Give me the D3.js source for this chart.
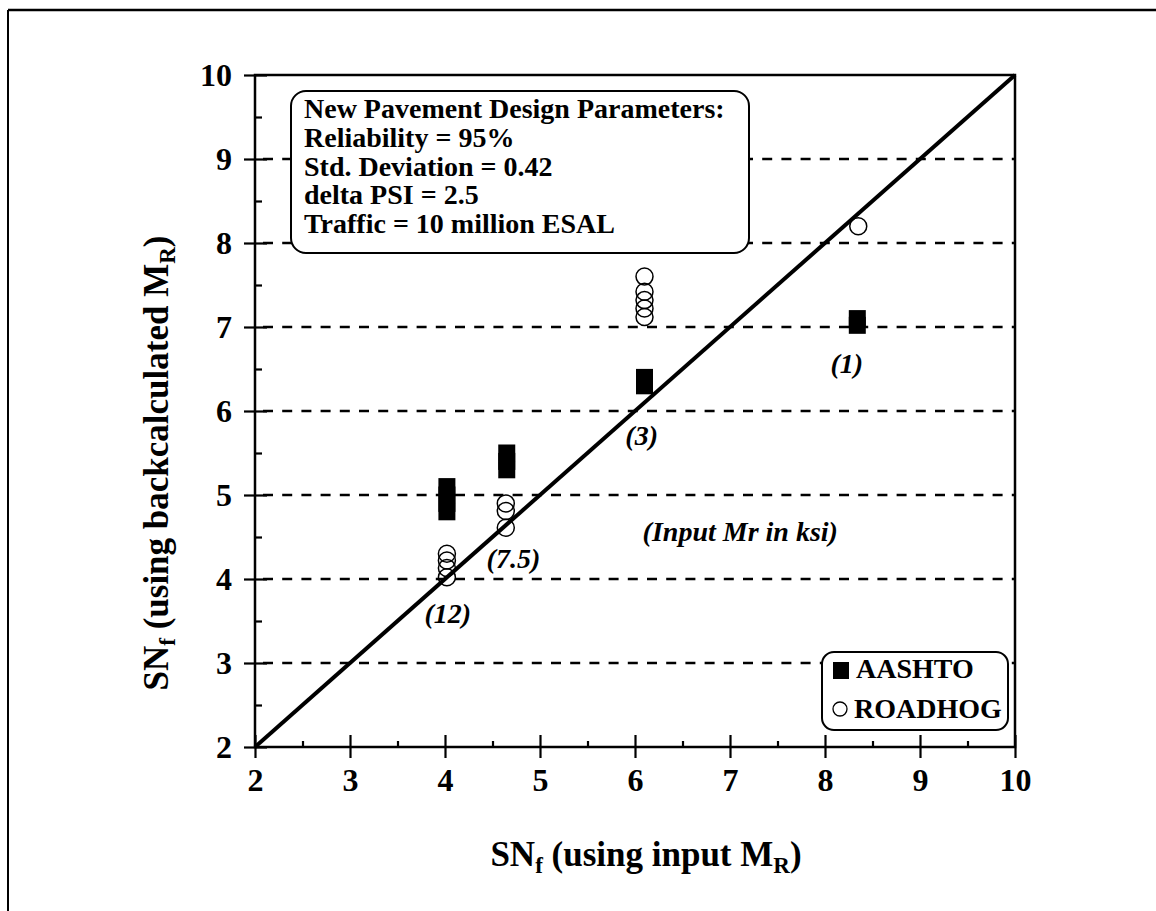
<!DOCTYPE html>
<html><head><meta charset="utf-8">
<script src="https://cdn.jsdelivr.net/npm/d3@7"></script>
<style>
html,body{margin:0;padding:0;background:#fff;}
svg{display:block;font-family:"Liberation Serif","Times New Roman",serif;font-weight:bold;}
</style></head>
<body>
<script>
// ---- data ----
const xTicks = [2,3,4,5,6,7,8,9,10];
const yTicks = [2,3,4,5,6,7,8,9,10];
const gridValues = [3,4,5,6,7,8,9];
const aashtoX = [4.02,4.02,4.02,4.02, 4.65,4.65,4.65, 6.10,6.10,6.10, 8.34,8.34];
const aashtoY = [4.80,4.90,5.00,5.10, 5.30,5.40,5.50, 6.30,6.35,6.40, 7.02,7.10];
const roadhogX = [4.02,4.02,4.02,4.02, 4.64,4.64,4.64, 6.10,6.10,6.10,6.10,6.10, 8.35];
const roadhogY = [4.02,4.13,4.22,4.30, 4.61,4.81,4.90, 7.12,7.22,7.32,7.42,7.60, 8.20];
const lineOfEquality = [[2,2],[10,10]];
const mrLabels = ["(12)","(7.5)","(3)","(1)"];
const mrLabelX = [4.03,4.72,6.07,8.23];
const mrLabelY = [3.48,4.13,5.60,6.45];
const noteText = "(Input Mr in ksi)";
const noteX = 6.08, noteY = 4.45;
const boxLines = ["New Pavement Design Parameters:","Reliability = 95%","Std. Deviation = 0.42","delta PSI = 2.5","Traffic = 10 million ESAL"];
const legendNames = ["AASHTO","ROADHOG"];

const W = 1156, H = 911;
const svg = d3.select("body").append("svg").attr("width",W).attr("height",H);

// outer frame
svg.append("line").attr("x1",8).attr("y1",10).attr("x2",W).attr("y2",10).attr("stroke","#000").attr("stroke-width",2.5);
svg.append("line").attr("x1",8).attr("y1",10).attr("x2",8).attr("y2",H).attr("stroke","#000").attr("stroke-width",2);

const x = d3.scaleLinear().domain([2,10]).range([255,1015]);
const y = d3.scaleLinear().domain([2,10]).range([747,75]);

// gridlines
svg.append("g").selectAll("line").data(gridValues).join("line")
  .attr("x1",x(2)+8).attr("x2",x(10)).attr("y1",d=>y(d)).attr("y2",d=>y(d))
  .attr("stroke","#000").attr("stroke-width",2.6).attr("stroke-dasharray","10,9.2");

// line of equality
svg.append("path").datum(lineOfEquality)
  .attr("d",d3.line().x(d=>x(d[0])).y(d=>y(d[1])))
  .attr("stroke","#000").attr("stroke-width",4).attr("fill","none");

// AASHTO squares
const sq = 17;
svg.append("g").selectAll("rect").data(aashtoX.map((v,i)=>[v,aashtoY[i]])).join("rect")
  .attr("x",d=>x(d[0])-sq/2).attr("y",d=>y(d[1])-sq/2).attr("width",sq).attr("height",sq).attr("fill","#000");

// ROADHOG circles
svg.append("g").selectAll("circle").data(roadhogX.map((v,i)=>[v,roadhogY[i]])).join("circle")
  .attr("cx",d=>x(d[0])).attr("cy",d=>y(d[1])).attr("r",8.5)
  .attr("fill","none").attr("stroke","#000").attr("stroke-width",1.5);

// Mr labels
svg.append("g").selectAll("text").data(mrLabels).join("text")
  .attr("x",(d,i)=>x(mrLabelX[i])).attr("y",(d,i)=>y(mrLabelY[i]))
  .attr("text-anchor","middle").attr("font-size",28).attr("font-style","italic").text(d=>d);
svg.append("text").attr("x",x(noteX)).attr("y",y(noteY)).attr("font-size",28).attr("font-style","italic").text(noteText);

// parameters box
svg.append("rect").attr("x",291).attr("y",91).attr("width",458).attr("height",162).attr("rx",15)
  .attr("fill","#fff").attr("stroke","#000").attr("stroke-width",2);
svg.append("g").selectAll("text").data(boxLines).join("text")
  .attr("x",304).attr("y",(d,i)=>118+i*28.8).attr("font-size",28).text(d=>d);

// legend
svg.append("rect").attr("x",822).attr("y",652).attr("width",186).attr("height",78).attr("rx",12)
  .attr("fill","#fff").attr("stroke","#000").attr("stroke-width",2);
svg.append("rect").attr("x",833).attr("y",662).attr("width",16).attr("height",17).attr("fill","#000");
svg.append("circle").attr("cx",840).attr("cy",709).attr("r",7).attr("fill","none").attr("stroke","#000").attr("stroke-width",1.3);
svg.append("g").selectAll("text").data(legendNames).join("text")
  .attr("x",(d,i)=>i?854:856).attr("y",(d,i)=>678+i*40).attr("font-size",28).text(d=>d);

// axes
function styleAxis(g){ g.select(".domain").remove(); g.selectAll("line").attr("stroke","#000").attr("stroke-width",2.2); }
const fmt = d3.format("d");
svg.append("g").attr("transform",`translate(0,${y(2)})`)
  .call(d3.axisBottom(x).tickValues(xTicks).tickSize(11).tickPadding(10).tickFormat(fmt))
  .call(styleAxis).call(g=>g.selectAll("text").attr("font-size",32).attr("font-family","Liberation Serif").attr("font-weight","bold").attr("fill","#000"));
svg.append("g").attr("transform",`translate(0,${y(2)})`)
  .call(d3.axisTop(x).tickValues(xTicks).tickSize(12).tickFormat(""))
  .call(styleAxis);
svg.append("g").attr("transform",`translate(0,${y(2)})`)
  .call(d3.axisTop(x).tickValues(d3.range(2.5,10,1)).tickSize(6).tickFormat(""))
  .call(styleAxis);
svg.append("g").attr("transform",`translate(${x(2)},0)`)
  .call(d3.axisLeft(y).tickValues(yTicks).tickSize(11).tickPadding(12).tickFormat(fmt))
  .call(styleAxis).call(g=>g.selectAll("text").attr("font-size",32).attr("font-family","Liberation Serif").attr("font-weight","bold").attr("fill","#000"));
svg.append("g").attr("transform",`translate(${x(2)},0)`)
  .call(d3.axisRight(y).tickValues(yTicks).tickSize(12).tickFormat(""))
  .call(styleAxis);
svg.append("g").attr("transform",`translate(${x(2)},0)`)
  .call(d3.axisRight(y).tickValues(d3.range(2.5,10,1)).tickSize(7).tickFormat(""))
  .call(styleAxis);

// plot frame
svg.append("rect").attr("x",x(2)).attr("y",y(10)).attr("width",x(10)-x(2)).attr("height",y(2)-y(10))
  .attr("fill","none").attr("stroke","#000").attr("stroke-width",2.5);

// axis titles
const xt = svg.append("text").attr("x",646).attr("y",866).attr("text-anchor","middle").attr("font-size",35);
xt.append("tspan").text("SN");
xt.append("tspan").attr("font-size",23).attr("dy",7).text("f");
xt.append("tspan").attr("dy",-7).text(" (using input M");
xt.append("tspan").attr("font-size",23).attr("dy",7).text("R");
xt.append("tspan").attr("dy",-7).text(")");

const yt = svg.append("text").attr("transform","translate(168,463) rotate(-90)").attr("text-anchor","middle").attr("font-size",35);
yt.append("tspan").text("SN");
yt.append("tspan").attr("font-size",23).attr("dy",7).text("f");
yt.append("tspan").attr("dy",-7).text(" (using backcalculated M");
yt.append("tspan").attr("font-size",23).attr("dy",7).text("R");
yt.append("tspan").attr("dy",-7).text(")");
</script>
</body></html>
